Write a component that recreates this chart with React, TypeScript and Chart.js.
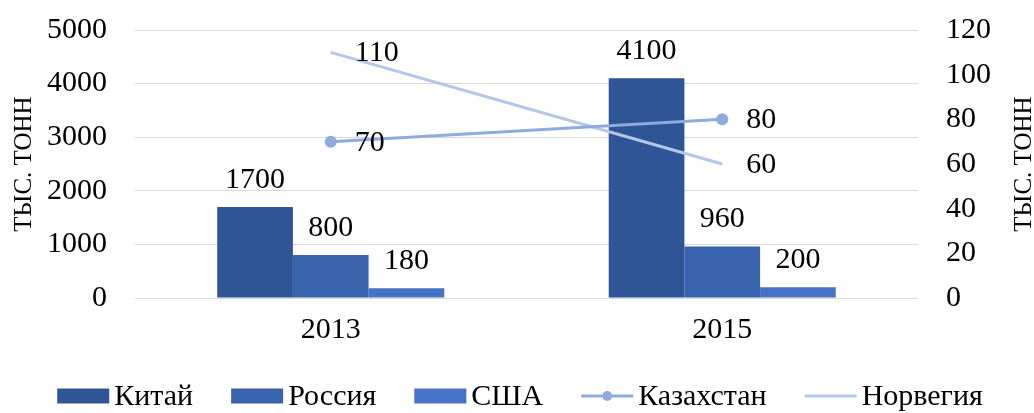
import React, { useEffect, useRef } from 'react';
import { Chart, registerables } from 'chart.js';

Chart.register(...registerables);

const categories = ['2013', '2015'];
const chinaValues = [1700, 4100];
const russiaValues = [800, 960];
const usaValues = [180, 200];
const kazakhstanValues = [70, 80];
const norwayValues = [110, 60];
const axisTitle = 'ТЫС. ТОНН';

const FONT = "'Liberation Serif', 'Times New Roman', serif";

const overlayPlugin = {
  id: 'overlay',
  afterDatasetsDraw(chart: any) {
    const ctx = chart.ctx;
    ctx.save();
    ctx.fillStyle = '#000';
    ctx.font = `30px ${FONT}`;
    ctx.textBaseline = 'middle';
    chart.data.datasets.forEach((ds: any, i: number) => {
      const meta = chart.getDatasetMeta(i);
      meta.data.forEach((el: any, j: number) => {
        const v = ds.data[j];
        if (ds.type === 'line') {
          ctx.textAlign = 'left';
          ctx.fillText(String(v), el.x + 24, el.y + 1);
        } else {
          ctx.textAlign = 'center';
          ctx.fillText(String(v), el.x, el.y - 27);
        }
      });
    });
    ctx.restore();
  },
  afterDraw(chart: any) {
    const ctx = chart.ctx;
    const area = chart.chartArea;
    const midY = (area.top + area.bottom) / 2;
    ctx.save();
    ctx.fillStyle = '#000';
    ctx.font = `25px ${FONT}`;
    ctx.textAlign = 'center';
    ctx.textBaseline = 'middle';
    ctx.save();
    ctx.translate(24, midY);
    ctx.rotate(-Math.PI / 2);
    ctx.fillText(axisTitle, 0, 0);
    ctx.restore();
    ctx.save();
    ctx.translate(1024, midY);
    ctx.rotate(-Math.PI / 2);
    ctx.fillText(axisTitle, 0, 0);
    ctx.restore();

    ctx.font = `30px ${FONT}`;
    ctx.textAlign = 'left';
    const markerW = 52;
    const gapText = 5;
    const gapItem = 38;
    const items = chart.data.datasets.map((ds: any) => ({
      label: ds.label,
      color: ds.type === 'line' ? ds.borderColor : ds.backgroundColor,
      kind: ds.type === 'line' ? (ds.pointRadius > 0 ? 'lineDot' : 'line') : 'box',
      w: ctx.measureText(ds.label).width,
    }));
    let total = 0;
    items.forEach((it: any, k: number) => {
      total += markerW + gapText + it.w + (k < items.length - 1 ? gapItem : 0);
    });
    let x = (chart.width - total) / 2 + 3;
    const cy = 396;
    items.forEach((it: any) => {
      if (it.kind === 'box') {
        ctx.fillStyle = it.color;
        ctx.fillRect(x, cy - 7.5, markerW, 15);
      } else {
        ctx.strokeStyle = it.color;
        ctx.lineWidth = 3;
        ctx.beginPath();
        ctx.moveTo(x, cy);
        ctx.lineTo(x + markerW, cy);
        ctx.stroke();
        if (it.kind === 'lineDot') {
          ctx.fillStyle = it.color;
          ctx.beginPath();
          ctx.arc(x + markerW / 2, cy, 5, 0, Math.PI * 2);
          ctx.fill();
        }
      }
      ctx.fillStyle = '#000';
      ctx.fillText(it.label, x + markerW + gapText, cy + 1);
      x += markerW + gapText + it.w + gapItem;
    });
    ctx.restore();
  },
};

export default function App() {
  const ref = useRef<HTMLCanvasElement>(null);
  useEffect(() => {
    document.body.style.margin = '0';
    const canvas = ref.current!;
    const chart = new Chart(canvas, {
      type: 'bar',
      data: {
        labels: categories,
        datasets: [
          { type: 'bar', label: 'Китай', data: chinaValues, backgroundColor: '#2F5597', yAxisID: 'y', order: 1 },
          { type: 'bar', label: 'Россия', data: russiaValues, backgroundColor: '#3A63AD', yAxisID: 'y', order: 1 },
          { type: 'bar', label: 'США', data: usaValues, backgroundColor: '#4472C4', yAxisID: 'y', order: 1 },
          {
            type: 'line', label: 'Казахстан', data: kazakhstanValues, borderColor: '#8FAADC',
            backgroundColor: '#8FAADC', borderWidth: 3, pointRadius: 6, pointBorderWidth: 0,
            pointBackgroundColor: '#8FAADC', yAxisID: 'y1', order: 0,
          },
          {
            type: 'line', label: 'Норвегия', data: norwayValues, borderColor: '#B4C7E7',
            backgroundColor: '#B4C7E7', borderWidth: 3, pointRadius: 0, yAxisID: 'y1', order: 0,
          },
        ] as any,
      },
      options: {
        animation: false,
        responsive: false,
        maintainAspectRatio: false,
        layout: { padding: { top: 30, left: 0, right: 0, bottom: 0 } },
        plugins: { legend: { display: false }, tooltip: { enabled: false } },
        datasets: { bar: { categoryPercentage: 0.58, barPercentage: 1 } } as any,
        scales: {
          x: {
            grid: { display: false },
            border: { display: false },
            ticks: { color: '#000', font: { family: FONT, size: 30 }, padding: 6 },
            afterFit: (s: any) => { s.height = 115; },
          },
          y: {
            position: 'left',
            min: 0, max: 5000,
            ticks: {
              stepSize: 1000, color: '#000', font: { family: FONT, size: 30 }, padding: 0,
              callback: (v: any) => String(v),
            },
            grid: { color: '#D9D9D9', lineWidth: 1, drawTicks: true, tickLength: 28, tickColor: 'rgba(0,0,0,0)' },
            border: { display: false },
            afterFit: (s: any) => { s.width = 135; },
          },
          y1: {
            position: 'right',
            min: 0, max: 120,
            ticks: {
              stepSize: 20, color: '#000', font: { family: FONT, size: 30 }, padding: 0,
              callback: (v: any) => String(v),
            },
            grid: { display: true, drawOnChartArea: false, drawTicks: true, tickLength: 28, tickColor: 'rgba(0,0,0,0)' },
            border: { display: false },
            afterFit: (s: any) => { s.width = 116; },
          },
        },
      },
      plugins: [overlayPlugin],
    });
    return () => chart.destroy();
  }, []);
  return <canvas ref={ref} width={1034} height={413} style={{ display: 'block' }} />;
}
